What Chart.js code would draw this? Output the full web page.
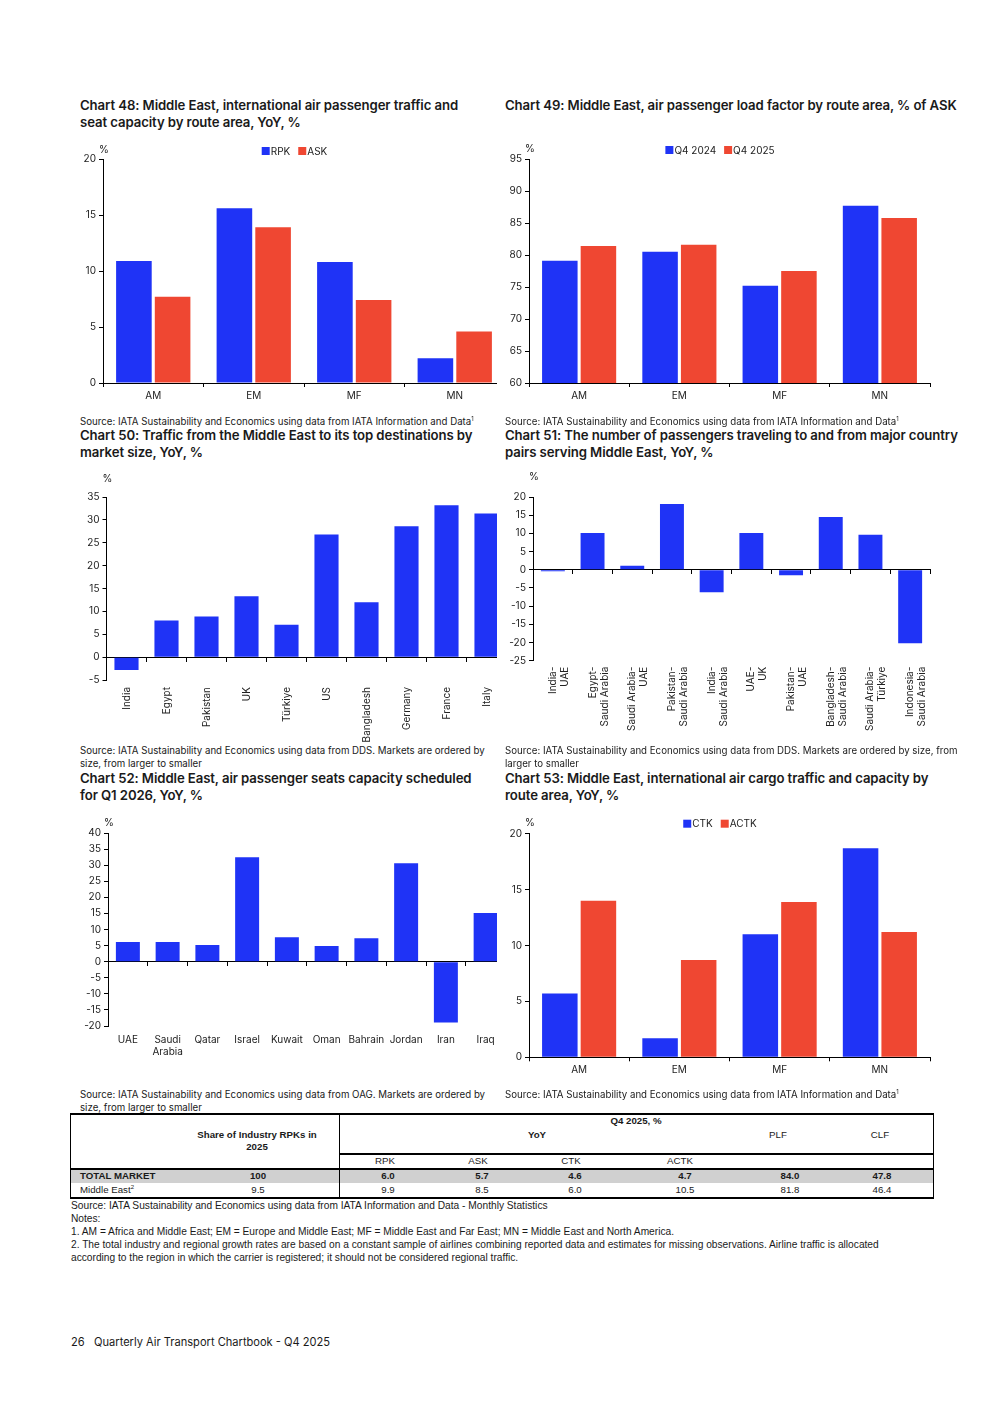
<!DOCTYPE html>
<html>
<head>
<meta charset="utf-8">
<script src="https://cdn.jsdelivr.net/npm/chart.js@4.4.1/dist/chart.umd.min.js"></script>
<style>
body { margin: 0; background: #fff; color: #1a1a1a; font-family: Inter, "Liberation Sans", sans-serif; }
#page { position: relative; width: 992px; height: 1403px; overflow: hidden; }
.title { position: absolute; font-weight: 600; font-size: 13.2px; line-height: 17px; white-space: nowrap; letter-spacing: -0.1px; }
.src { position: absolute; font-size: 9.7px; line-height: 12.6px; white-space: nowrap; }
sup { font-size: 6px; line-height: 0; vertical-align: 0; position: relative; top: -4px; }
.box { position: absolute; overflow: hidden; }
.box canvas { position: absolute; left: 0; top: 0; }
.tx { position: absolute; font-family: "Liberation Sans", Arial, sans-serif; font-size: 9.7px; white-space: nowrap; line-height: 12px; }
.c { transform: translate(-50%, -50%); text-align: center; }
.l { transform: translateY(-50%); }
.b { font-weight: bold; }
.ln { position: absolute; background: #000; }
.note { position: absolute; font-family: "Liberation Sans", Arial, sans-serif; font-size: 10.2px; line-height: 13px; white-space: nowrap; }
</style>
</head>
<body>
<div id="page">
  <div class="title" style="left:80px;top:97px">Chart 48: Middle East, international air passenger traffic and<br>seat capacity by route area, YoY, %</div>
  <div class="title" style="left:505px;top:97px">Chart 49: Middle East, air passenger load factor by route area, % of ASK</div>
  <div class="title" style="left:80px;top:427px">Chart 50: Traffic from the Middle East to its top destinations by<br>market size, YoY, %</div>
  <div class="title" style="left:505px;top:427px">Chart 51: The number of passengers traveling to and from major country<br>pairs serving Middle East, YoY, %</div>
  <div class="title" style="left:80px;top:770px">Chart 52: Middle East, air passenger seats capacity scheduled<br>for Q1 2026, YoY, %</div>
  <div class="title" style="left:505px;top:770px">Chart 53: Middle East, international air cargo traffic and capacity by<br>route area, YoY, %</div>

  <div class="box" style="left:70px;top:140px;width:427px;height:270px"><canvas id="c48"></canvas></div>
  <div class="box" style="left:495px;top:140px;width:450px;height:270px"><canvas id="c49"></canvas></div>
  <div class="box" style="left:70px;top:470px;width:427px;height:275px"><canvas id="c50"></canvas></div>
  <div class="box" style="left:495px;top:470px;width:450px;height:275px"><canvas id="c51"></canvas></div>
  <div class="box" style="left:70px;top:810px;width:427px;height:272px"><canvas id="c52"></canvas></div>
  <div class="box" style="left:495px;top:810px;width:450px;height:272px"><canvas id="c53"></canvas></div>

  <div class="src" style="left:80px;top:416px">Source: IATA Sustainability and Economics using data from IATA Information and Data<sup>1</sup></div>
  <div class="src" style="left:505px;top:416px">Source: IATA Sustainability and Economics using data from IATA Information and Data<sup>1</sup></div>
  <div class="src" style="left:80px;top:745px">Source: IATA Sustainability and Economics using data from DDS. Markets are ordered by<br>size, from larger to smaller</div>
  <div class="src" style="left:505px;top:745px">Source: IATA Sustainability and Economics using data from DDS. Markets are ordered by size, from<br>larger to smaller</div>
  <div class="src" style="left:80px;top:1089px">Source: IATA Sustainability and Economics using data from OAG. Markets are ordered by<br>size, from larger to smaller</div>
  <div class="src" style="left:505px;top:1089px">Source: IATA Sustainability and Economics using data from IATA Information and Data<sup>1</sup></div>

  <div id="table"></div>

  <div class="note" style="left:71px;top:1199px">Source: IATA Sustainability and Economics using data from IATA Information and Data - Monthly Statistics<br>Notes:<br>1. AM = Africa and Middle East; EM = Europe and Middle East; MF = Middle East and Far East; MN = Middle East and North America.<br>2. The total industry and regional growth rates are based on a constant sample of airlines combining reported data and estimates for missing observations. Airline traffic is allocated<br>according to the region in which the carrier is registered; it should not be considered regional traffic.</div>

  <div style="position:absolute;left:71px;top:1335px;font-size:11.1px;white-space:nowrap">26&nbsp;&nbsp;&nbsp;Quarterly Air Transport Chartbook - Q4 2025</div>
</div>

<script>
// route areas (charts 48, 49, 53)
const routeAreas = ['AM', 'EM', 'MF', 'MN'];
const rpkGrowth = [10.9, 15.6, 10.8, 2.2];
const askGrowth = [7.7, 13.9, 7.4, 4.6];
const loadFactor2024 = [79.1, 80.5, 75.2, 87.7];
const loadFactor2025 = [81.4, 81.6, 77.5, 85.8];
const ctkGrowth = [5.7, 1.7, 11.0, 18.7];
const actkGrowth = [14.0, 8.7, 13.9, 11.2];

// chart 50
const destinations = ['India', 'Egypt', 'Pakistan', 'UK', 'Türkiye', 'US', 'Bangladesh', 'Germany', 'France', 'Italy'];
const destinationGrowth = [-2.8, 8.0, 8.9, 13.3, 7.1, 26.8, 12.0, 28.6, 33.2, 31.4];

// chart 51
const countryPairs = [['India-', 'UAE'], ['Egypt-', 'Saudi Arabia'], ['Saudi Arabia-', 'UAE'], ['Pakistan-', 'Saudi Arabia'],
  ['India-', 'Saudi Arabia'], ['UAE-', 'UK'], ['Pakistan-', 'UAE'], ['Bangladesh-', 'Saudi Arabia'],
  ['Saudi Arabia-', 'Türkiye'], ['Indonesia-', 'Saudi Arabia']];
const pairGrowth = [-0.4, 10.1, 1.1, 18.1, -6.2, 10.1, -1.5, 14.5, 9.6, -20.2];

// chart 52
const seatMarkets = ['UAE', ['Saudi', 'Arabia'], 'Qatar', 'Israel', 'Kuwait', 'Oman', 'Bahrain', 'Jordan', 'Iran', 'Iraq'];
const seatGrowth = [6.1, 6.1, 5.2, 32.5, 7.6, 4.9, 7.3, 30.6, -18.9, 15.1];

// table
const tableYoyCols = ['RPK', 'ASK', 'CTK', 'ACTK'];
const tableRows = ['TOTAL MARKET', 'Middle East'];
const tableShare = ['100', '9.5'];
const tableYoy = [['6.0', '5.7', '4.6', '4.7'], ['9.9', '8.5', '6.0', '10.5']];
const tablePlf = ['84.0', '81.8'];
const tableClf = ['47.8', '46.4'];

const BLUE = '#1f33f6';
const RED = '#ef4732';
const INK = '#222';
Chart.defaults.font.family = 'Inter, "Liberation Sans", sans-serif';
Chart.defaults.font.size = 10;
Chart.defaults.color = INK;

// "%" unit and the small legend above the plot
const decorPlugin = {
    id: 'decor',
    afterDraw(chart, args, opts) {
        const ctx = chart.ctx;
        const area = chart.chartArea;
        ctx.save();
        ctx.font = '10px Inter, "Liberation Sans", sans-serif';
        ctx.fillStyle = INK;
        ctx.textAlign = 'center';
        ctx.textBaseline = 'middle';
        ctx.fillText('%', area.left + 1, area.top - opts.unitGap);
        if (opts.legend) {
            const sets = chart.data.datasets;
            const box = 8, gap = 1, space = 8;
            const widths = sets.map(d => box + gap + ctx.measureText(d.label).width);
            const total = widths.reduce((a, b) => a + b, 0) + space * (sets.length - 1);
            let x = (area.left + area.right) / 2 + opts.legendShift - total / 2;
            const y = area.top - opts.legendGap;
            ctx.textAlign = 'left';
            sets.forEach((d, i) => {
                ctx.fillStyle = d.backgroundColor;
                ctx.fillRect(x, y - box / 2, box, box);
                ctx.fillStyle = INK;
                ctx.fillText(d.label, x + box + gap, y + 0.5);
                x += widths[i] + space;
            });
        }
        ctx.restore();
    }
};

// canvas = page rect of the canvas, plot = page rect of the plot area
function makeBarChart(id, o) {
    const cv = document.getElementById(id);
    const cw = o.canvas.r - o.canvas.l, ch = o.canvas.b - o.canvas.t;
    cv.width = cw; cv.height = ch;
    cv.style.width = cw + 'px'; cv.style.height = ch + 'px';
    const yWidth = o.plot.l - o.canvas.l;
    const xHeight = o.canvas.b - o.plot.b;

    const scales = {
        y: {
            min: o.yMin, max: o.yMax,
            ticks: { stepSize: 5, padding: 3, color: INK },
            grid: { drawOnChartArea: false, tickLength: 4, color: '#000' },
            border: { color: '#000', width: 1 },
            afterFit: s => { s.width = yWidth; }
        }
    };
    if (o.zeroAxis) {
        scales.x = {
            type: 'category', offset: true,
            grid: { display: false, drawTicks: false },
            border: { display: false },
            ticks: { padding: o.labelPad, autoSkip: false, maxRotation: o.rotate ? 90 : 0, minRotation: o.rotate ? 90 : 0, color: INK },
            afterFit: s => { s.height = xHeight; }
        };
        scales.x0 = {
            type: 'category', offset: true, position: { y: 0 },
            grid: { offset: true, drawOnChartArea: false, tickLength: 4, color: '#000' },
            border: { color: '#000', width: 1 },
            ticks: { display: false }
        };
    } else {
        scales.x = {
            type: 'category', offset: true,
            grid: { offset: true, drawOnChartArea: false, tickLength: 4, color: '#000' },
            border: { color: '#000', width: 1 },
            ticks: { padding: 3, autoSkip: false, maxRotation: 0, color: INK },
            afterFit: s => { s.height = xHeight; }
        };
    }

    new Chart(cv, {
        type: 'bar',
        data: {
            labels: o.labels,
            datasets: o.series.map(s => ({
                label: s.label,
                data: s.data,
                backgroundColor: s.color,
                borderWidth: 0,
                xAxisID: 'x',
                barPercentage: o.barPct,
                categoryPercentage: o.catPct
            }))
        },
        options: {
            responsive: false,
            animation: false,
            devicePixelRatio: 1,
            layout: {
                padding: {
                    left: 0, bottom: 0,
                    top: o.plot.t - o.canvas.t,
                    right: o.canvas.r - o.plot.r
                }
            },
            plugins: {
                legend: { display: false },
                tooltip: { enabled: false },
                decor: { legend: o.series.length > 1, unitGap: o.unitGap, legendGap: o.legendGap || 9, legendShift: -9.5 }
            },
            scales: scales
        },
        plugins: [decorPlugin]
    });
}

makeBarChart('c48', {
    canvas: { l: 70, t: 140, r: 515, b: 410 },
    plot: { l: 103, t: 159, r: 505, b: 383 },
    labels: routeAreas,
    series: [{ label: 'RPK', data: rpkGrowth, color: BLUE }, { label: 'ASK', data: askGrowth, color: RED }],
    yMin: 0, yMax: 20, barPct: 0.92, catPct: 0.77, unitGap: 9, legendGap: 8
});

makeBarChart('c49', {
    canvas: { l: 495, t: 140, r: 945, b: 410 },
    plot: { l: 529, t: 159, r: 930, b: 383 },
    labels: routeAreas,
    series: [{ label: 'Q4 2024', data: loadFactor2024, color: BLUE }, { label: 'Q4 2025', data: loadFactor2025, color: RED }],
    yMin: 60, yMax: 95, barPct: 0.92, catPct: 0.77, unitGap: 10, legendGap: 9
});

makeBarChart('c50', {
    canvas: { l: 70, t: 470, r: 515, b: 745 },
    plot: { l: 106.5, t: 497, r: 506.5, b: 680 },
    labels: destinations,
    series: [{ label: 'Traffic', data: destinationGrowth, color: BLUE }],
    yMin: -5, yMax: 35, barPct: 0.9, catPct: 0.67, unitGap: 18,
    zeroAxis: true, rotate: true, labelPad: 7
});

makeBarChart('c51', {
    canvas: { l: 495, t: 470, r: 945, b: 745 },
    plot: { l: 533, t: 497, r: 930, b: 660.7 },
    labels: countryPairs,
    series: [{ label: 'Passengers', data: pairGrowth, color: BLUE }],
    yMin: -25, yMax: 20, barPct: 0.9, catPct: 0.67, unitGap: 20,
    zeroAxis: true, rotate: true, labelPad: 6
});

makeBarChart('c52', {
    canvas: { l: 70, t: 810, r: 515, b: 1082 },
    plot: { l: 108, t: 833, r: 505.5, b: 1026 },
    labels: seatMarkets,
    series: [{ label: 'Seats', data: seatGrowth, color: BLUE }],
    yMin: -20, yMax: 40, barPct: 0.9, catPct: 0.67, unitGap: 10,
    zeroAxis: true, rotate: false, labelPad: 8
});

makeBarChart('c53', {
    canvas: { l: 495, t: 810, r: 945, b: 1082 },
    plot: { l: 529, t: 833.7, r: 930, b: 1057.3 },
    labels: routeAreas,
    series: [{ label: 'CTK', data: ctkGrowth, color: BLUE }, { label: 'ACTK', data: actkGrowth, color: RED }],
    yMin: 0, yMax: 20, barPct: 0.92, catPct: 0.77, unitGap: 11, legendGap: 10
});

// summary table
const table = document.getElementById('table');
function put(html, x, y, cls) {
    const d = document.createElement('div');
    d.className = 'tx ' + cls;
    d.style.left = x + 'px';
    d.style.top = y + 'px';
    d.innerHTML = html;
    table.appendChild(d);
}
function line(x, y, w, h) {
    const d = document.createElement('div');
    d.className = 'ln';
    d.style.left = x + 'px'; d.style.top = y + 'px';
    d.style.width = w + 'px'; d.style.height = h + 'px';
    table.appendChild(d);
}
const grey = document.createElement('div');
grey.style.cssText = 'position:absolute;left:71px;top:1170px;width:862px;height:13px;background:#d0d0d0';
table.appendChild(grey);

line(70, 1113, 864, 2);
line(70, 1113, 1, 86);
line(933, 1113, 1, 86);
line(339, 1113, 1, 86);
line(339, 1153, 595, 2);
line(70, 1168, 864, 2);
line(70, 1197, 864, 1.5);

put('Q4 2025, %', 636, 1121, 'c b');
put('Share of Industry RPKs in<br>2025', 257, 1141, 'c b');
put('YoY', 537, 1135, 'c b');
put('PLF', 778, 1135, 'c');
put('CLF', 880, 1135, 'c');
const yoyHeadX = [385, 478, 571, 680];
const yoyValX = [388, 482, 575, 685];
tableYoyCols.forEach((h, i) => put(h, yoyHeadX[i], 1161, 'c'));
tableRows.forEach((name, r) => {
    const y = 1176 + r * 13.5;
    const cls = r === 0 ? 'c b' : 'c';
    put(r === 0 ? name : name + '<sup>2</sup>', 80, y, r === 0 ? 'l b' : 'l');
    put(tableShare[r], 258, y, cls);
    tableYoy[r].forEach((v, i) => put(v, yoyValX[i], y, cls));
    put(tablePlf[r], 790, y, cls);
    put(tableClf[r], 882, y, cls);
});
</script>
</body>
</html>
